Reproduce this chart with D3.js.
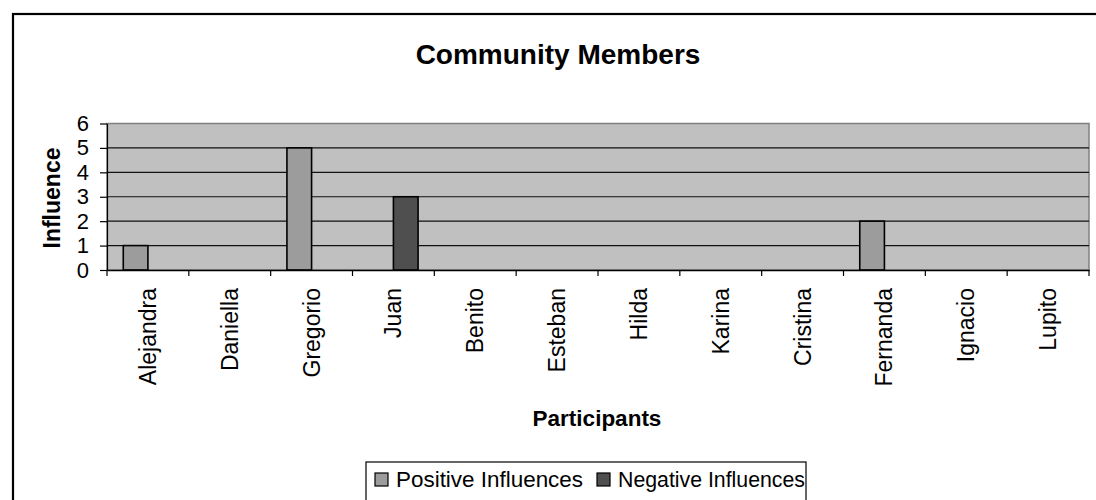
<!DOCTYPE html>
<html>
<head>
<meta charset="utf-8">
<script src="https://cdnjs.cloudflare.com/ajax/libs/d3/7.8.5/d3.min.js"></script>
<style>
  body { margin: 0; background: #fff; }
  svg { display: block; font-family: "Liberation Sans", Arial, sans-serif; }
</style>
</head>
<body>
<svg id="chart" width="1096" height="500"></svg>
<script>
const participants = ["Alejandra", "Daniella", "Gregorio", "Juan", "Benito", "Esteban",
  "Hilda", "Karina", "Cristina", "Fernanda", "Ignacio", "Lupito"];
const positive = [1, 0, 5, 0, 0, 0, 0, 0, 0, 2, 0, 0];
const negative = [0, 0, 0, 3, 0, 0, 0, 0, 0, 0, 0, 0];
const seriesNames = ["Positive Influences", "Negative Influences"];
const yTicks = [0, 1, 2, 3, 4, 5, 6];

const colors = ["#9c9c9c", "#4f4f4f"];
const font = "Liberation Sans, Arial, sans-serif";
const svg = d3.select("#chart");
const margin = { top: 123.5, left: 107, right: 1089, bottom: 270 };

// outer chart border (runs off the picture on right and bottom)
svg.append("rect")
  .attr("x", 13).attr("y", 14)
  .attr("width", 1200).attr("height", 600)
  .attr("fill", "#fff").attr("stroke", "#000").attr("stroke-width", 2.2);

const x = d3.scaleBand().domain(participants).range([margin.left, margin.right]);
const xSub = d3.scaleBand().domain(seriesNames).range([0, x.bandwidth()]).paddingOuter(0.66);
const y = d3.scaleLinear().domain([0, 6]).range([margin.bottom, margin.top]);

// plot area
svg.append("rect")
  .attr("x", margin.left).attr("y", y(6))
  .attr("width", margin.right - margin.left).attr("height", y(0) - y(6))
  .attr("fill", "#c0c0c0").attr("stroke", "#808080").attr("stroke-width", 1.5);

// gridlines
svg.append("g").selectAll("line").data(yTicks.slice(1, -1)).join("line")
  .attr("x1", margin.left).attr("x2", margin.right)
  .attr("y1", d => y(d)).attr("y2", d => y(d))
  .attr("stroke", "#111").attr("stroke-width", 1.2);

// bars
const rows = participants.map((p, i) => ({ p, vals: [positive[i], negative[i]] }));
const groups = svg.append("g").selectAll("g").data(rows).join("g")
  .attr("transform", d => `translate(${x(d.p)},0)`);
groups.selectAll("rect")
  .data(d => d.vals.map((v, k) => ({ v, k })).filter(e => e.v > 0))
  .join("rect")
  .attr("x", e => xSub(seriesNames[e.k]))
  .attr("y", e => y(e.v))
  .attr("width", xSub.bandwidth())
  .attr("height", e => y(0) - y(e.v))
  .attr("fill", e => colors[e.k])
  .attr("stroke", "#000").attr("stroke-width", 1.6);

// y axis
const yAxis = svg.append("g")
  .attr("transform", `translate(${margin.left},0)`)
  .call(d3.axisLeft(y).tickValues(yTicks).tickFormat(d3.format("d"))
    .tickSize(7).tickPadding(11).tickSizeOuter(0));
yAxis.attr("font-size", 22).attr("font-family", font);
yAxis.select(".domain").attr("stroke", "#000").attr("stroke-width", 1.2);
yAxis.selectAll(".tick line").attr("stroke", "#000").attr("stroke-width", 1.2);
yAxis.selectAll("text").attr("fill", "#000");

// x axis
const xAxis = svg.append("g")
  .attr("transform", `translate(0,${margin.bottom})`)
  .call(d3.axisBottom(x).tickSize(0).tickSizeOuter(0));
xAxis.attr("font-size", 23).attr("font-family", font);
xAxis.select(".domain").attr("stroke", "#000").attr("stroke-width", 1.5);
xAxis.selectAll(".tick text")
  .attr("fill", "#000")
  .attr("transform", "rotate(-90)")
  .attr("text-anchor", "end")
  .attr("x", -18).attr("y", 0).attr("dy", "0.35em");
// category boundary ticks
svg.append("g").selectAll("line")
  .data(participants.concat([null]))
  .join("line")
  .attr("x1", (d, i) => i < participants.length ? x(d) : margin.right)
  .attr("x2", (d, i) => i < participants.length ? x(d) : margin.right)
  .attr("y1", margin.bottom).attr("y2", margin.bottom + 6)
  .attr("stroke", "#000").attr("stroke-width", 1.2);

// titles
svg.append("text").attr("x", 558).attr("y", 64)
  .attr("text-anchor", "middle").attr("font-weight", "bold").attr("font-size", 28)
  .text("Community Members");
svg.append("text").attr("transform", "translate(60,198) rotate(-90)")
  .attr("text-anchor", "middle").attr("font-weight", "bold").attr("font-size", 23)
  .text("Influence");
svg.append("text").attr("x", 597).attr("y", 426)
  .attr("text-anchor", "middle").attr("font-weight", "bold").attr("font-size", 22.5)
  .text("Participants");

// legend
const legend = svg.append("g");
legend.append("rect")
  .attr("x", 366).attr("y", 462).attr("width", 440).attr("height", 60)
  .attr("fill", "#fff").attr("stroke", "#000").attr("stroke-width", 1.2);
const legX = [375, 597];
seriesNames.forEach((name, k) => {
  legend.append("rect")
    .attr("x", legX[k]).attr("y", 473).attr("width", 13).attr("height", 13)
    .attr("fill", colors[k]).attr("stroke", "#000").attr("stroke-width", 1.2);
  legend.append("text")
    .attr("x", legX[k] + 21).attr("y", 487)
    .attr("font-size", 21.5)
    .attr("textLength", 187).attr("lengthAdjust", "spacingAndGlyphs")
    .text(name);
});
</script>
</body>
</html>
